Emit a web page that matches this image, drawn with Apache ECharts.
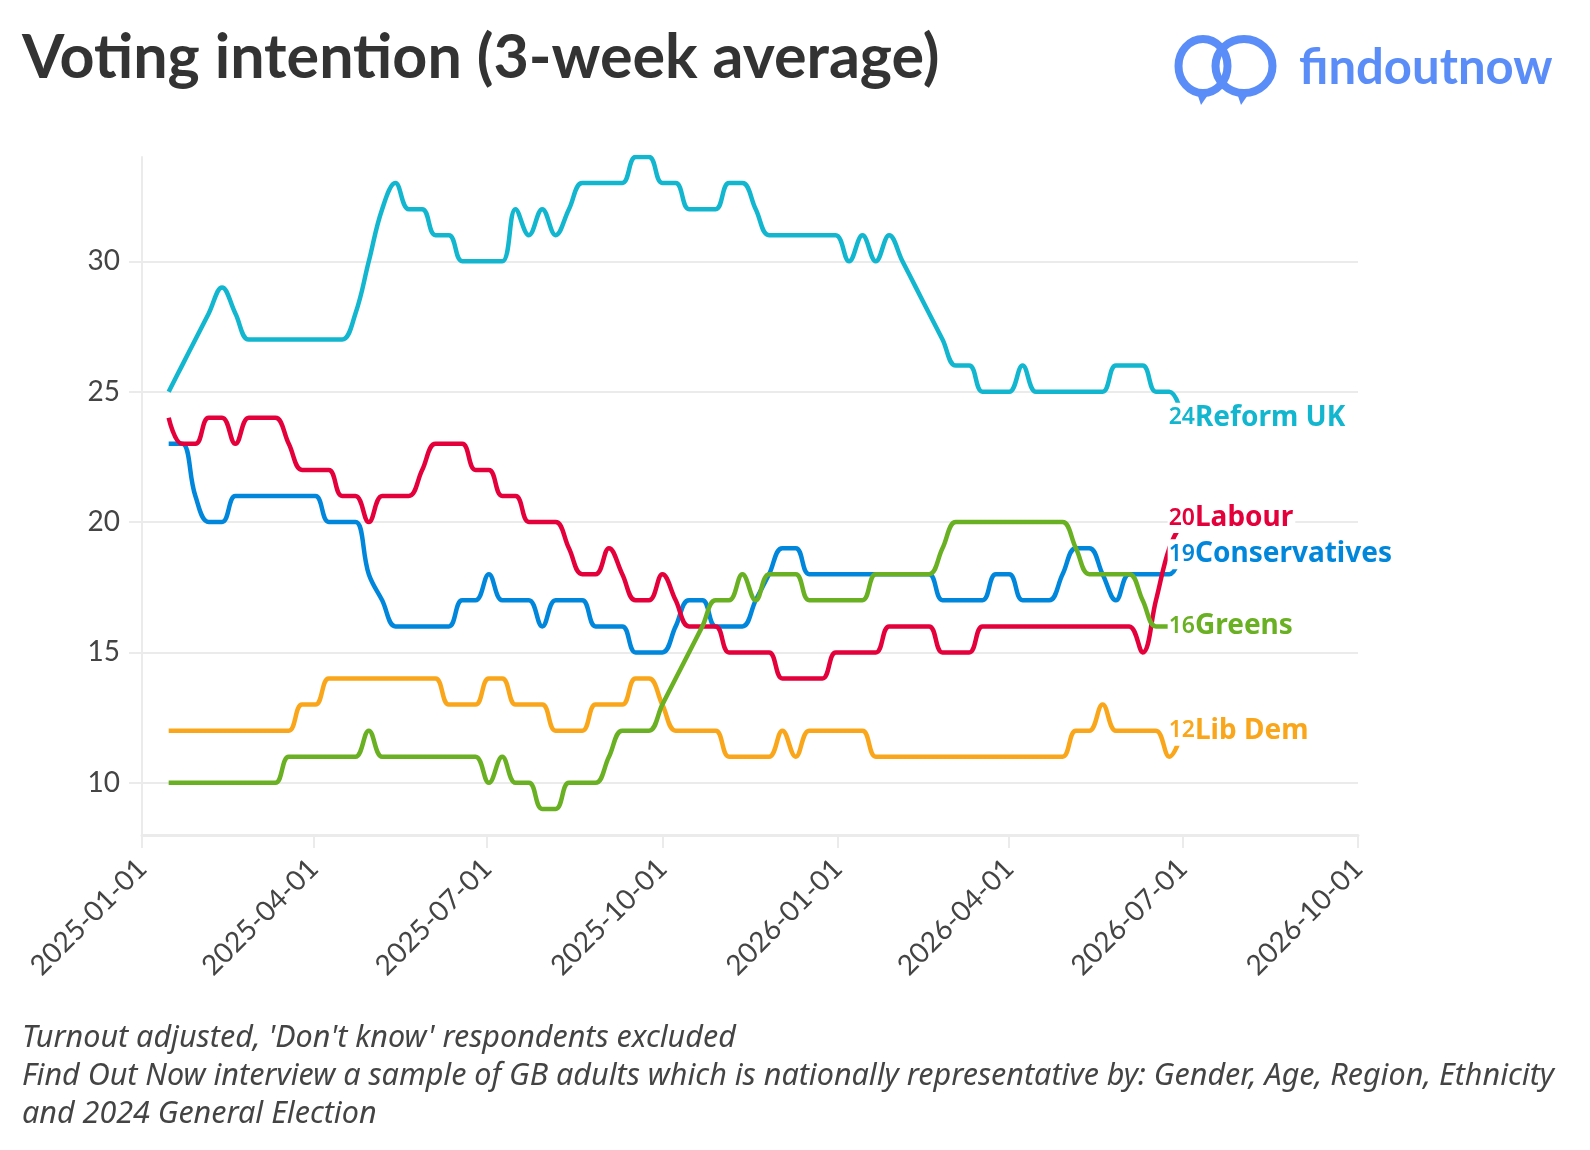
<!DOCTYPE html>
<html>
<head>
<meta charset="utf-8">
<script src="https://cdn.jsdelivr.net/npm/echarts@6/dist/echarts.min.js"></script>
<style>html,body{margin:0;padding:0;background:#fff}#chart{width:1590px;height:1150px}</style>
</head>
<body>
<div id="chart"></div>
<script>
// ---- data (weekly, first poll week 2025-01-15, last 2026-07-01) ----
const FIRST_WEEK = '2025-01-15';
const N_WEEKS = 77;
const X_TICKS = ['2025-01-01','2025-04-01','2025-07-01','2025-10-01','2026-01-01','2026-04-01','2026-07-01','2026-10-01'];
const Y_TICKS = [10, 15, 20, 25, 30];

const reformUK = [25,26,27,28,29,28,27,27,27,27,27,27,27,27,28,30,32,33,32,32,31,31,30,30,30,30,32,31,32,31,32,33,33,33,33,34,34,33,33,32,32,32,33,33,32,31,31,31,31,31,31,30,31,30,31,30,29,28,27,26,26,25,25,25,26,25,25,25,25,25,25,26,26,26,25,25,24];
const labour = [24,23,23,24,24,23,24,24,24,23,22,22,22,21,21,20,21,21,21,22,23,23,23,22,22,21,21,20,20,20,19,18,18,19,18,17,17,18,17,16,16,16,15,15,15,15,14,14,14,14,15,15,15,15,16,16,16,16,15,15,15,16,16,16,16,16,16,16,16,16,16,16,16,15,17,19,20];
const conservatives = [23,23,21,20,20,21,21,21,21,21,21,21,20,20,20,18,17,16,16,16,16,16,17,17,18,17,17,17,16,17,17,17,16,16,16,15,15,15,16,17,17,16,16,16,17,18,19,19,18,18,18,18,18,18,18,18,18,18,17,17,17,17,18,18,17,17,17,18,19,19,18,17,18,18,18,18,19];
const greens = [10,10,10,10,10,10,10,10,10,11,11,11,11,11,11,12,11,11,11,11,11,11,11,11,10,11,10,10,9,9,10,10,10,11,12,12,12,13,14,15,16,17,17,18,17,18,18,18,17,17,17,17,17,18,18,18,18,18,19,20,20,20,20,20,20,20,20,20,19,18,18,18,18,17,16,16,16];
const libDem = [12,12,12,12,12,12,12,12,12,12,13,13,14,14,14,14,14,14,14,14,14,13,13,13,14,14,13,13,13,12,12,12,13,13,13,14,14,13,12,12,12,12,11,11,11,11,12,11,12,12,12,12,12,11,11,11,11,11,11,11,11,11,11,11,11,11,11,11,12,12,13,12,12,12,12,11,12];

const SERIES = [
  {name: 'Conservatives', values: conservatives, color: '#0087DC', labelDy: 6},
  {name: 'Lib Dem', values: libDem, color: '#FAA61A', labelDy: 0},
  {name: 'Labour', values: labour, color: '#E4003B', labelDy: -4},
  {name: 'Greens', values: greens, color: '#6AB023', labelDy: 0},
  {name: 'Reform UK', values: reformUK, color: '#12B6CF', labelDy: 0}
];

// ---- helpers ----
const DAY = 86400000;
function parseDate(s) { const p = s.split('-').map(Number); return Date.UTC(p[0], p[1] - 1, p[2]); }
function fmtDate(ts) {
  const d = new Date(ts);
  const m = String(d.getUTCMonth() + 1).padStart(2, '0');
  const dd = String(d.getUTCDate()).padStart(2, '0');
  return d.getUTCFullYear() + '-' + m + '-' + dd;
}
const weekTs = [];
for (let i = 0; i < N_WEEKS; i++) weekTs.push(parseDate(FIRST_WEEK) + i * 7 * DAY);
const xTickTs = X_TICKS.map(parseDate);

const FONT = 'Lato';
const LABEL_FONT = 'Noto Sans';
const GRID_C = '#ebebeb';
const LOGO_C = '#5B8DF8';

const chart = echarts.init(document.getElementById('chart'), null, {renderer: 'canvas'});

const series = SERIES.map(s => ({
  type: 'line',
  name: s.name,
  data: s.values.map((v, i) => [weekTs[i], v]),
  smooth: 0.4,
  showSymbol: false,
  symbol: 'none',
  lineStyle: {color: s.color, width: 4.5},
  itemStyle: {color: s.color},
  emphasis: {disabled: true},
  endLabel: {
    show: true,
    distance: -15,
    offset: [0, s.labelDy],
    backgroundColor: '#fff',
    padding: [1, 2, 1, 1],
    formatter: p => '{v|' + p.value[1] + '}{n|' + s.name + '}',
    rich: {
      v: {fontFamily: LABEL_FONT, fontSize: 23, fontWeight: 600, color: s.color},
      n: {fontFamily: LABEL_FONT, fontSize: 28, fontWeight: 'bold', color: s.color}
    }
  }
}));

const option = {
  animation: false,
  backgroundColor: '#fff',
  grid: {left: 142, right: 232, top: 157, bottom: 315, containLabel: false},
  xAxis: {
    type: 'value',
    min: parseDate(X_TICKS[0]),
    max: parseDate(X_TICKS[X_TICKS.length - 1]),
    axisLine: {show: true, lineStyle: {color: GRID_C, width: 3}},
    axisTick: {show: true, length: 13, customValues: xTickTs, lineStyle: {color: GRID_C, width: 2}},
    axisLabel: {
      customValues: xTickTs, rotate: 45, margin: 29,
      fontFamily: FONT, fontSize: 28, color: '#444',
      formatter: v => fmtDate(v)
    },
    splitLine: {show: false}
  },
  yAxis: {
    type: 'value',
    min: 8, max: 34,
    axisLine: {show: true, lineStyle: {color: GRID_C, width: 2}},
    axisTick: {show: true, length: 13, customValues: Y_TICKS, lineStyle: {color: GRID_C, width: 2}},
    axisLabel: {customValues: Y_TICKS, margin: 22, fontFamily: FONT, fontSize: 28, color: '#444'},
    splitLine: {show: true, lineStyle: {color: GRID_C, width: 2}}
  },
  series: series,
  graphic: [
    {type: 'text', left: 22, top: 28, style: {text: 'Voting intention (3-week average)', fontFamily: FONT, fontSize: 61, fontWeight: 'bold', fill: '#333'}},
    {type: 'ellipse', shape: {cx: 1203, cy: 66, rx: 24.5, ry: 27}, style: {fill: 'none', stroke: LOGO_C, lineWidth: 8}},
    {type: 'ellipse', shape: {cx: 1244, cy: 66, rx: 28.5, ry: 27}, style: {fill: 'none', stroke: LOGO_C, lineWidth: 8}},
    {type: 'polygon', shape: {points: [[1196, 90], [1210, 92], [1201, 105]]}, style: {fill: LOGO_C}},
    {type: 'polygon', shape: {points: [[1236, 90], [1250, 92], [1241, 105]]}, style: {fill: LOGO_C}},
    {type: 'text', left: 1299, top: 44, style: {text: 'findoutnow', fontFamily: FONT, fontSize: 49, fontWeight: 'bold', fill: LOGO_C}},
    {type: 'text', left: 22, top: 1023, style: {text: "Turnout adjusted, 'Don't know' respondents excluded", fontFamily: 'Noto Sans', fontSize: 30.5, fontStyle: 'italic', fill: '#444'}},
    {type: 'text', left: 22, top: 1061, style: {text: 'Find Out Now interview a sample of GB adults which is nationally representative by: Gender, Age, Region, Ethnicity', fontFamily: 'Noto Sans', fontSize: 30.5, fontStyle: 'italic', fill: '#444'}},
    {type: 'text', left: 22, top: 1099, style: {text: 'and 2024 General Election', fontFamily: 'Noto Sans', fontSize: 30.5, fontStyle: 'italic', fill: '#444'}}
  ]
};
chart.setOption(option);
</script>
</body>
</html>
